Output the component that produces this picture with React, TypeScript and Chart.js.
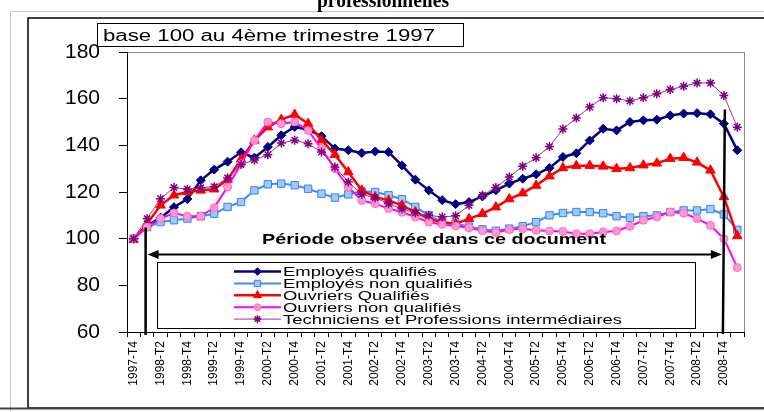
import React, { useEffect, useRef } from 'react';
import { Chart, registerables } from 'chart.js';
import { drawPoint } from 'chart.js/helpers';

Chart.register(...registerables);

const categories = [
  '1997-T4', '1998-T1', '1998-T2', '1998-T3', '1998-T4', '1999-T1', '1999-T2', '1999-T3', '1999-T4',
  '2000-T1', '2000-T2', '2000-T3', '2000-T4', '2001-T1', '2001-T2', '2001-T3', '2001-T4',
  '2002-T1', '2002-T2', '2002-T3', '2002-T4', '2003-T1', '2003-T2', '2003-T3', '2003-T4',
  '2004-T1', '2004-T2', '2004-T3', '2004-T4', '2005-T1', '2005-T2', '2005-T3', '2005-T4',
  '2006-T1', '2006-T2', '2006-T3', '2006-T4', '2007-T1', '2007-T2', '2007-T3', '2007-T4',
  '2008-T1', '2008-T2', '2008-T3', '2008-T4', '2009-T1',
];

const employesQualifies = [
  100, 105.5, 109, 113.5, 117, 125, 129.6, 133, 137, 134.7, 139.3, 144.3, 147.9, 146.7, 143.9, 138.6,
  137.9, 136.7, 137.4, 137.1, 131.4, 125.3, 120.7, 116.5, 114.8, 115.7, 118.1, 120.7, 123.6, 125.7,
  127.6, 130.3, 135, 136.6, 142.1, 147.1, 146.4, 150, 150.7, 151, 152.8, 153.6, 153.8, 153.3, 149.3, 137.9,
];

const employesNonQualifies = [
  100, 105, 107.1, 107.9, 108.6, 109.6, 110.7, 113.6, 115.7, 120.7, 123.3, 123.6, 122.9, 121.4, 119.3,
  117.6, 119, 120.3, 120, 118.6, 116.9, 113.6, 110, 107.1, 106.4, 105.2, 104, 103.4, 104.3, 105.3, 107.1,
  110, 111, 111.4, 111.4, 110.9, 109.6, 109, 109.6, 110, 111.4, 112.1, 112.1, 112.7, 110.4, 103.8,
];

const ouvriersQualifies = [
  99.5, 106.4, 114.3, 118.6, 120, 120.7, 121.2, 125.3, 134, 142.1, 147.8, 151, 153.2, 149.3, 142.2, 136,
  128.6, 120.7, 117.9, 116.4, 114.3, 111.4, 108.6, 107, 106.4, 108.5, 110.7, 113.5, 117, 119.5, 122.8,
  126.8, 130.3, 131.2, 131.3, 131, 130, 130.3, 131.5, 132.3, 134.3, 134.7, 132.7, 129.3, 117.9, 101.2,
];

const ouvriersNonQualifies = [
  100, 105, 108.6, 111, 109.6, 109.6, 113.3, 122.1, 132.1, 142.1, 150, 149.3, 150, 146.4, 138.6, 130,
  122.1, 116.4, 115, 112.9, 111.3, 109.3, 107.1, 106.1, 105.4, 104.7, 103.4, 102.6, 103.9, 104.2, 103.6,
  103.3, 103.1, 102.1, 102.1, 102.9, 103.3, 105.3, 107.9, 109.3, 111.4, 110.9, 108.6, 105.7, 100, 87.6,
];

const techniciens = [
  100, 108.6, 117.1, 121.9, 121.2, 121.8, 122.3, 126, 131.8, 133.7, 136, 141, 142.2, 140.7, 137.1, 130.7,
  124.3, 119, 117.5, 115, 112.7, 111, 110, 109.3, 109.8, 114.3, 118.6, 121.9, 126.4, 131, 134.7, 139.5,
  147, 151.7, 156.4, 160.4, 160, 159, 160.4, 162.1, 163.9, 165.3, 166.7, 166.7, 161.4, 147.8,
];

const seriesNames = [
  'Employés qualifiés',
  'Employés non qualifiés',
  'Ouvriers Qualifiés',
  'Ouvriers non qualifiés',
  'Techniciens et Professions intermédiaires',
];

const yMin = 60;
const yMax = 180;
const yStep = 20;

const titleText = 'professionnelles';
const baseNote = 'base 100 au 4ème trimestre 1997';
const periodText = 'Période observée dans ce document';
const periodStartIndex = 1;
const periodEndIndex = 44;

const SANS = '"Liberation Sans", Arial, sans-serif';

function fitText(ctx: CanvasRenderingContext2D, text: string, x: number, y: number, width: number, font: string, align: 'left' | 'center' = 'left') {
  ctx.save();
  ctx.font = font;
  ctx.textBaseline = 'alphabetic';
  ctx.textAlign = 'left';
  const w = ctx.measureText(text).width;
  const s = width / w;
  const startX = align === 'center' ? x - width / 2 : x;
  ctx.translate(startX, y);
  ctx.scale(s, 1);
  ctx.fillText(text, 0, 0);
  ctx.restore();
}

const decorPlugin = {
  id: 'decor',
  beforeDraw(chart: any) {
    const { ctx, chartArea } = chart;
    const W = chart.width;
    const H = chart.height;
    ctx.save();
    ctx.fillStyle = '#ffffff';
    ctx.fillRect(0, 0, W, H);
    // outer light frame
    ctx.strokeStyle = '#c8c8c8';
    ctx.lineWidth = 1;
    ctx.beginPath();
    ctx.moveTo(10.5, H);
    ctx.lineTo(10.5, 11.5);
    ctx.lineTo(W, 11.5);
    ctx.stroke();
    // black frame
    ctx.strokeStyle = '#000000';
    ctx.lineWidth = 1.5;
    ctx.beginPath();
    ctx.moveTo(W + 2, 18);
    ctx.lineTo(28, 18);
    ctx.lineTo(28, 408);
    ctx.lineTo(W + 2, 408);
    ctx.stroke();
    ctx.strokeStyle = '#404040';
    ctx.lineWidth = 2;
    ctx.beginPath();
    ctx.moveTo(0, 408.5);
    ctx.lineTo(W, 408.5);
    ctx.stroke();
    // title (cut off)
    ctx.fillStyle = '#000000';
    fitText(ctx, titleText, 383, 7, 132, 'bold 22px "Liberation Serif", "Times New Roman", serif', 'center');
    // plot area border (top/right gray)
    ctx.strokeStyle = '#8c8c8c';
    ctx.lineWidth = 1;
    ctx.strokeRect(chartArea.left + 0.5, chartArea.top + 0.5, chartArea.right - chartArea.left, chartArea.bottom - chartArea.top);
    // base note box
    ctx.fillStyle = '#ffffff';
    ctx.fillRect(97, 23, 367, 24);
    ctx.strokeStyle = '#000000';
    ctx.lineWidth = 1;
    ctx.strokeRect(97.5, 23.5, 366, 23);
    ctx.fillStyle = '#000000';
    fitText(ctx, baseNote, 103, 41, 332, `16px ${SANS}`);
    ctx.restore();
  },
  afterDraw(chart: any) {
    const { ctx } = chart;
    const xs = chart.scales.x;
    const ys = chart.scales.y;
    ctx.save();
    // period markers
    const xL = xs.getPixelForValue(periodStartIndex) - 1.5;
    const xR = xs.getPixelForValue(periodEndIndex);
    ctx.strokeStyle = '#000000';
    ctx.lineWidth = 2.5;
    ctx.beginPath();
    ctx.moveTo(xL, ys.getPixelForValue(104.8));
    ctx.lineTo(xL, 335);
    ctx.moveTo(xR + 1, ys.getPixelForValue(155.4));
    ctx.lineTo(xR - 1, 334);
    ctx.stroke();
    // arrow
    const ay = Math.round(ys.getPixelForValue(93.6)) + 0.5;
    const left = xL + 2;
    const right = xR - 2;
    ctx.lineWidth = 2;
    ctx.beginPath();
    ctx.moveTo(left + 6, ay);
    ctx.lineTo(right - 6, ay);
    ctx.stroke();
    ctx.fillStyle = '#000000';
    ctx.beginPath();
    ctx.moveTo(left, ay);
    ctx.lineTo(left + 11, ay - 4.5);
    ctx.lineTo(left + 11, ay + 4.5);
    ctx.closePath();
    ctx.fill();
    ctx.beginPath();
    ctx.moveTo(right, ay);
    ctx.lineTo(right - 11, ay - 4.5);
    ctx.lineTo(right - 11, ay + 4.5);
    ctx.closePath();
    ctx.fill();
    // period text
    fitText(ctx, periodText, 262, ys.getPixelForValue(97.8), 344, `bold 14px ${SANS}`);

    // legend
    ctx.fillStyle = '#ffffff';
    ctx.fillRect(157, 262, 539, 67);
    ctx.strokeStyle = '#000000';
    ctx.lineWidth = 1;
    ctx.strokeRect(157.5, 262.5, 538, 66);
    ctx.font = `13px ${SANS}`;
    const longest = seriesNames[4];
    const sx = 339 / ctx.measureText(longest).width;
    chart.data.datasets.forEach((ds: any, i: number) => {
      const cy = 271.5 + 11.9 * i;
      ctx.strokeStyle = ds.borderColor;
      ctx.lineWidth = ds.borderWidth;
      ctx.beginPath();
      ctx.moveTo(234, cy);
      ctx.lineTo(281, cy);
      ctx.stroke();
      ctx.fillStyle = ds.pointBackgroundColor;
      ctx.strokeStyle = ds.pointBorderColor;
      ctx.lineWidth = ds.pointBorderWidth;
      drawPoint(ctx, { pointStyle: ds.pointStyle, radius: ds.pointRadius * 0.85, borderWidth: ds.pointBorderWidth, rotation: 0 }, 257.5, cy);
      ctx.fillStyle = '#000000';
      ctx.save();
      ctx.font = `13px ${SANS}`;
      ctx.textBaseline = 'alphabetic';
      ctx.translate(283, cy + 4.5);
      ctx.scale(sx, 1);
      ctx.fillText(ds.label, 0, 0);
      ctx.restore();
    });
    ctx.restore();
  },
};

export default function App() {
  const canvasRef = useRef<HTMLCanvasElement | null>(null);

  useEffect(() => {
    if (!canvasRef.current) return;
    const mk = (label: string, data: number[], line: string, lw: number, style: string, radius: number, bg: string, bc: string, bw: number, order: number) => ({
      label,
      data,
      borderColor: line,
      borderWidth: lw,
      pointStyle: style,
      pointRadius: radius,
      pointBackgroundColor: bg,
      pointBorderColor: bc,
      pointBorderWidth: bw,
      backgroundColor: bg,
      tension: 0,
      fill: false,
      order,
    });
    const chart = new Chart(canvasRef.current, {
      type: 'line',
      data: {
        labels: categories,
        datasets: [
          mk(seriesNames[0], employesQualifies, '#000080', 2.5, 'rectRot', 4.5, '#000080', '#000080', 1, 5),
          mk(seriesNames[1], employesNonQualifies, '#3d8bff', 2, 'rect', 5.2, '#99ccff', '#3d7bff', 1, 4),
          mk(seriesNames[2], ouvriersQualifies, '#ff0000', 2.5, 'triangle', 5.5, '#ff0000', '#ff0000', 1, 3),
          mk(seriesNames[3], ouvriersNonQualifies, '#ff00ff', 2, 'circle', 4, '#ff99cc', '#ff66cc', 1, 2),
          mk(seriesNames[4], techniciens, '#993399', 1, 'star', 4.5, '#800080', '#800080', 1.5, 1),
        ],
      },
      options: {
        responsive: false,
        animation: false,
        devicePixelRatio: 1,
        layout: { padding: { left: 0, top: 52, right: 20, bottom: 0 } },
        plugins: {
          legend: { display: false },
          tooltip: { enabled: false },
          title: { display: false },
        },
        scales: {
          x: {
            type: 'category',
            offset: true,
            afterFit: (scale: any) => { scale.height = 80; },
            grid: {
              offset: true,
              drawOnChartArea: false,
              drawTicks: true,
              tickLength: 5,
              color: '#000000',
            },
            border: { display: true, color: '#000000', width: 1 },
            ticks: {
              autoSkip: false,
              maxRotation: 90,
              minRotation: 90,
              padding: 4,
              color: '#000000',
              font: { family: SANS, size: 12 },
              callback: (_v: any, idx: number) => (idx % 2 === 0 ? categories[idx] : ''),
            },
          },
          y: {
            min: yMin,
            max: yMax,
            afterFit: (scale: any) => { scale.width = 127; },
            grid: {
              drawOnChartArea: false,
              drawTicks: true,
              tickLength: 8,
              color: '#000000',
            },
            border: { display: true, color: '#000000', width: 1 },
            ticks: {
              stepSize: yStep,
              padding: 19,
              color: '#000000',
              font: { family: SANS, size: 21 },
            },
          },
        },
      },
      plugins: [decorPlugin],
    } as any);
    return () => chart.destroy();
  }, []);

  return (
    <div style={{ position: 'absolute', left: 0, top: 0, width: 764, height: 412, background: '#fff' }}>
      <canvas ref={canvasRef} width={764} height={412} style={{ display: 'block', width: 764, height: 412 }} />
    </div>
  );
}
